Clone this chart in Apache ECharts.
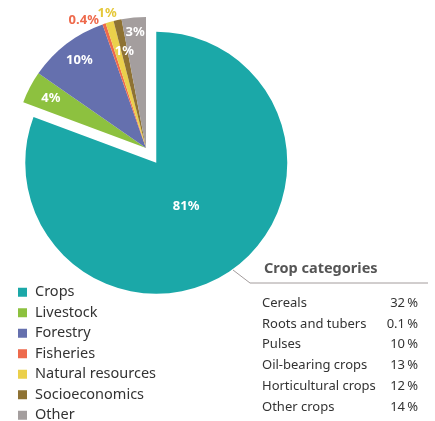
<!DOCTYPE html>
<html>
<head>
<meta charset="utf-8">
<script src="https://cdn.jsdelivr.net/npm/echarts@6/dist/echarts.min.js"></script>
<style>
  html, body { margin: 0; padding: 0; background: #fff; }
  #chart { width: 435px; height: 421px; }
</style>
</head>
<body>
<div id="chart"></div>
<script>
// Research areas and their shares (%)
const regions = ['Crops', 'Livestock', 'Forestry', 'Fisheries', 'Natural resources', 'Socioeconomics', 'Other'];
const regionShares = [81, 4, 10, 0.4, 1, 1, 3];

// Breakdown of the crops slice (%)
const cropCategories = ['Cereals', 'Roots and tubers', 'Pulses', 'Oil-bearing crops', 'Horticultural crops', 'Other crops'];
const cropShares = [32, 0.1, 10, 13, 12, 14];

const palette = ['#1BA8A8', '#8DC13F', '#6570AE', '#EE6A4C', '#EBD04B', '#8E7233', '#A49E9E'];
const labelColors = ['#fff', '#fff', '#fff', '#EE6A4C', '#E5C83A', '#fff', '#fff'];
// label distance from the centre, as a fraction of the radius
const labelRadius = [0.40, 0.82, 0.84, 1.03, 1.07, 0.76, 0.89];

const FONT = 'Noto Sans';
const PIE_CENTER = [146, 148];
const PIE_RADIUS = 131;
const EXPLODE = 18;

const chart = echarts.init(document.getElementById('chart'), null, { renderer: 'canvas' });

// pull the Crops slice out along its bisector
const total = regionShares.reduce((a, b) => a + b, 0);
const cropsMid = (regionShares[0] / total) * Math.PI;
const cropsCenter = [
  PIE_CENTER[0] + Math.sin(cropsMid) * EXPLODE,
  PIE_CENTER[1] - Math.cos(cropsMid) * EXPLODE
];

function sliceData(visible) {
  return regions.map((name, i) => ({
    name: name,
    value: regionShares[i],
    itemStyle: { color: palette[i], opacity: visible(i) ? 1 : 0 },
    label: {
      show: visible(i),
      color: labelColors[i]
    }
  }));
}

function placeLabel(params) {
  const data = chart.getModel().getSeriesByIndex(params.seriesIndex).getData();
  const lay = data.getItemLayout(params.dataIndex);
  const mid = (lay.startAngle + lay.endAngle) / 2;
  const k = labelRadius[params.dataIndex];
  const x = lay.cx + Math.cos(mid) * lay.r * k;
  const y = lay.cy + Math.sin(mid) * lay.r * k;
  const right = params.dataIndex === 3;
  return { x: right ? x - 4 : x, y: y, align: right ? 'right' : 'center', verticalAlign: 'middle' };
}

const pieBase = {
  type: 'pie',
  radius: PIE_RADIUS,
  startAngle: 90,
  clockwise: true,
  silent: true,
  avoidLabelOverlap: false,
  animation: false,
  emphasis: { disabled: true },
  label: {
    position: 'inside',
    fontFamily: FONT,
    fontSize: 13,
    fontWeight: 'bold',
    formatter: p => p.value + '%'
  },
  labelLine: { show: false },
  labelLayout: placeLabel
};

// crop category table
const TABLE_X = 262;
const TABLE_VALUE_X = 418;
const TABLE_TOP = 303;
const ROW_GAP = 20.8;
const TABLE_FONT = '13px "' + FONT + '"';
const tableTexts = [];
cropCategories.forEach((name, i) => {
  const y = TABLE_TOP + i * ROW_GAP;
  tableTexts.push({
    type: 'text', x: TABLE_X, y: y,
    style: { text: name, fill: '#333', font: TABLE_FONT, textAlign: 'left', textVerticalAlign: 'middle' }
  });
  tableTexts.push({
    type: 'text', x: TABLE_VALUE_X, y: y,
    style: {
      text: cropShares[i] + '\u2009%', fill: '#333', font: TABLE_FONT,
      textAlign: 'right', textVerticalAlign: 'middle'
    }
  });
});

chart.setOption({
  animation: false,
  legend: {
    orient: 'vertical',
    left: 18,
    top: 282,
    height: 170,
    padding: 0,
    itemWidth: 9,
    itemHeight: 9,
    itemGap: 0,
    icon: 'rect',
    selectedMode: false,
    textStyle: { fontFamily: FONT, fontSize: 14.5, color: '#333', lineHeight: 20.5, padding: [0, 0, 0, 3] },
    data: regions.map((name, i) => ({ name: name, itemStyle: { color: palette[i], opacity: 1 } }))
  },
  graphic: [
    {
      type: 'polyline',
      shape: { points: [[233, 270], [250, 283], [428, 283]] },
      style: { stroke: '#A39C9C', lineWidth: 1, fill: null },
      silent: true
    },
    {
      type: 'text', x: 264, y: 269,
      style: { text: 'Crop categories', fill: '#555', font: 'bold 14.5px "' + FONT + '"', textVerticalAlign: 'middle' }
    }
  ].concat(tableTexts),
  series: [
    Object.assign({}, pieBase, {
      name: 'Other areas',
      center: PIE_CENTER,
      data: sliceData(i => i !== 0)
    }),
    Object.assign({}, pieBase, {
      name: 'Crops',
      center: cropsCenter,
      data: sliceData(i => i === 0)
    })
  ]
});
</script>
</body>
</html>
